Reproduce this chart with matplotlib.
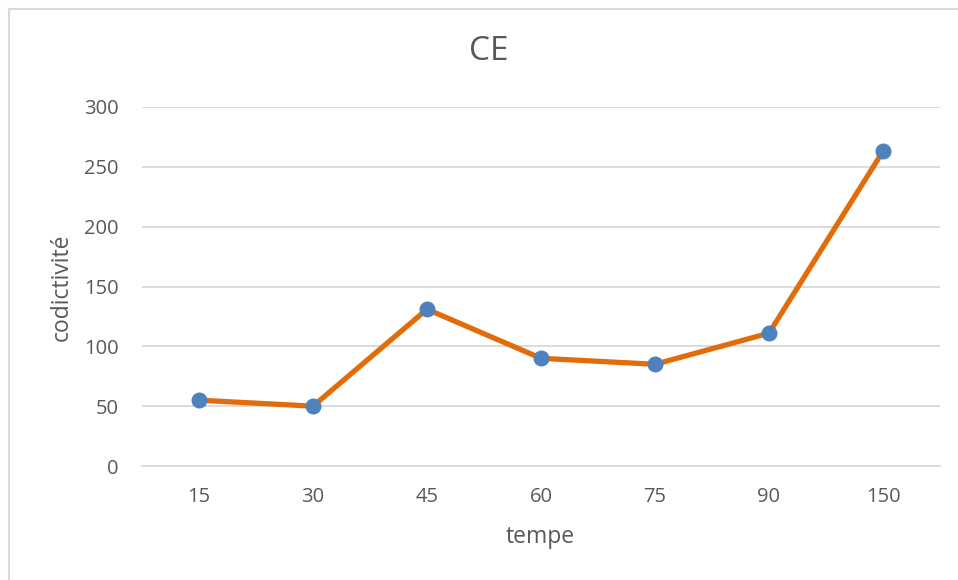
import matplotlib.pyplot as plt
from matplotlib.lines import Line2D

plt.rcParams['font.family'] = ['Open Sans', 'DejaVu Sans']

tempe = ['15', '30', '45', '60', '75', '90', '150']
codictivite = [55, 50, 131, 90, 85, 111, 263]

W, H = 958, 580
fig = plt.figure(figsize=(W / 100, H / 100), dpi=100)
ax = fig.add_axes([142 / W, 1 - 466 / H, (940 - 142) / W, (466 - 107) / H])

x = range(len(tempe))
ax.plot(x, codictivite, color='#E36C0A', linewidth=3.8, solid_joinstyle='round',
        marker='o', markersize=10.5, markerfacecolor='#4F81BD',
        markeredgecolor='#4F81BD', zorder=3)

ax.set_xlim(-0.5, len(tempe) - 0.5)
ax.set_ylim(0, 300)
ax.set_yticks(range(0, 301, 50))
ax.set_xticks(list(x))
ax.set_xticklabels(tempe)
ax.grid(axis='y', color='#D9D9D9', linewidth=1.3)
ax.set_axisbelow(True)
for s in ['top', 'right', 'left']:
    ax.spines[s].set_visible(False)
ax.spines['bottom'].set_color('#D9D9D9')
ax.spines['bottom'].set_linewidth(1.3)
ax.tick_params(length=0, labelsize=14.5, labelcolor='#595959')
ax.tick_params(axis='x', pad=15)
ax.tick_params(axis='y', pad=17)

fig.text(489 / W, 1 - 52 / H, 'CE', ha='center', va='center',
         fontsize=24, color='#595959')
fig.text(62 / W, 1 - 287 / H, 'codictivité', rotation=90, ha='center',
         va='center', fontsize=16.5, color='#595959')
fig.text(540 / W, 1 - 537 / H, 'tempe', ha='center',
         va='center', fontsize=16.5, color='#595959')

# chart area frame (only left and top edges fall inside the image)
fig.add_artist(Line2D([8.5 / W, 8.5 / W], [0, 1 - 8.5 / H], transform=fig.transFigure,
                      color='#D9D9D9', linewidth=1.5))
fig.add_artist(Line2D([8.5 / W, 1], [1 - 8.5 / H, 1 - 8.5 / H], transform=fig.transFigure,
                      color='#D9D9D9', linewidth=1.5))

fig.savefig('out.png', dpi=100)
